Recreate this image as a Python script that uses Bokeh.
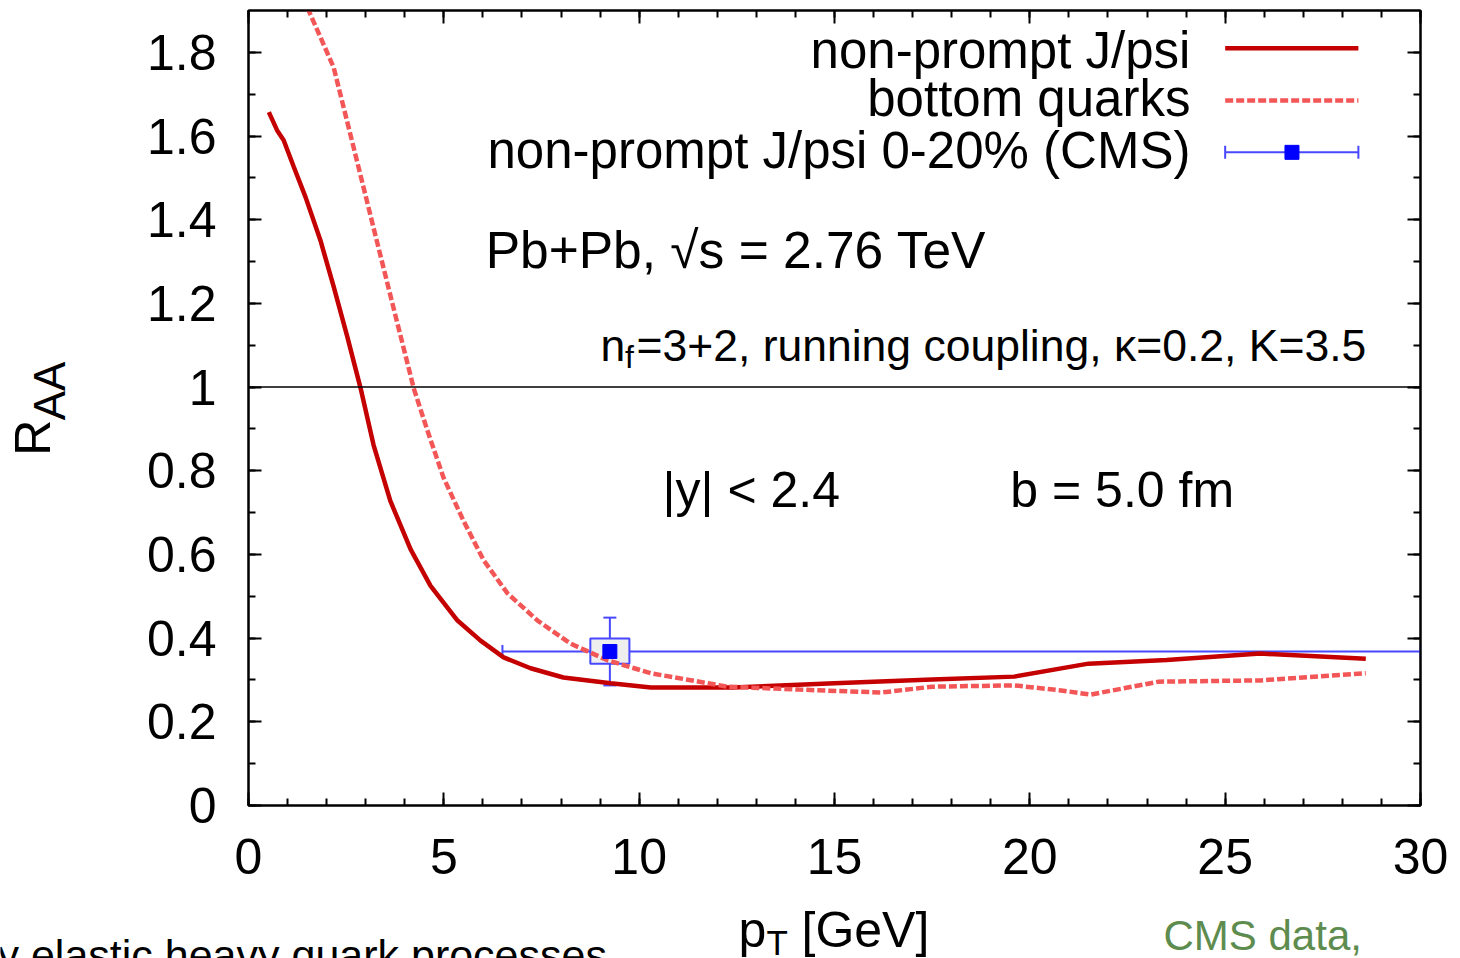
import math
from bokeh.plotting import figure
from bokeh.layouts import column, row
from bokeh.models import (SingleIntervalTicker, LinearAxis, Label, Span, Whisker,
                          ColumnDataSource, CustomJSTickFormatter, TeeHead, Range1d)
from bokeh.embed import file_html
from bokeh.resources import INLINE

# ---------------- data ----------------
# non-prompt J/psi (model), solid line
jpsi_pt = [0.52, 0.73, 0.9, 1.16, 1.46, 1.84, 2.18, 2.53, 2.87, 3.2, 3.63, 4.15, 4.66,
           5.35, 5.94, 6.53, 7.22, 8.06, 9.27, 10.3, 12.4, 15.0, 17.5, 19.6, 21.5,
           23.5, 25.9, 28.6]
jpsi_raa = [1.657, 1.614, 1.59, 1.526, 1.454, 1.351, 1.24, 1.12, 0.997, 0.862, 0.728,
            0.612, 0.525, 0.442, 0.394, 0.354, 0.328, 0.306, 0.292, 0.282, 0.282,
            0.292, 0.301, 0.308, 0.339, 0.348, 0.363, 0.351]

# bottom quarks (model), dashed line
bq_pt = [1.2, 1.54, 2.18, 2.69, 3.2, 3.71, 4.23, 4.58, 4.99, 5.5, 6.02, 6.63, 7.4,
         8.24, 9.19, 10.3, 12.26, 14.1, 16.2, 17.5, 19.6, 20.8, 21.55, 23.3, 25.9, 28.6]
bq_raa = [1.98, 1.90, 1.764, 1.573, 1.381, 1.19, 0.997, 0.896, 0.784, 0.681, 0.586,
          0.507, 0.442, 0.387, 0.347, 0.316, 0.284, 0.277, 0.27, 0.284, 0.287, 0.275,
          0.265, 0.296, 0.299, 0.316]

# CMS non-prompt J/psi 0-20%
cms_pt = [9.25]
cms_raa = [0.368]
cms_pt_lo = [6.5]
cms_pt_hi = [30.0]
cms_raa_lo = [0.287]
cms_raa_hi = [0.449]
cms_sys_lo = [0.339]
cms_sys_hi = [0.399]

x_ticks_major = 5
y_ticks_major = 0.2

legend_labels = ["non-prompt J/psi", "bottom quarks", "non-prompt J/psi 0-20% (CMS)"]

# ---------------- styling ----------------
FONT = "Liberation Sans"
RED = "#c40000"
LRED = "#f35656"
BLUE = "#0000ff"
BLUE_L = "#4848ff"

MAIN_W, MAIN_H = 1320, 900
LEFT_W = 140
BOTTOM_H = 58

p = figure(width=MAIN_W, height=MAIN_H, x_range=Range1d(0, 30), y_range=Range1d(0, 1.9),
           output_backend="svg", toolbar_location=None,
           min_border_left=108, min_border_right=40, min_border_top=10,
           min_border_bottom=95)
p.background_fill_color = "white"
p.border_fill_color = "white"
p.grid.visible = False
p.outline_line_color = "black"
p.outline_line_width = 2

xt = SingleIntervalTicker(interval=x_ticks_major, num_minor_ticks=5)
yt = SingleIntervalTicker(interval=y_ticks_major, num_minor_ticks=2)
yfmt = CustomJSTickFormatter(code="return Number(tick.toFixed(1)).toString();")
blank = CustomJSTickFormatter(code="return '';")


def style_axis(ax, show_labels, standoff):
    ax.axis_line_width = 2
    ax.axis_line_color = "black"
    ax.major_tick_in = 13
    ax.major_tick_out = 0
    ax.minor_tick_in = 7
    ax.minor_tick_out = 0
    ax.major_tick_line_width = 2
    ax.minor_tick_line_width = 2
    ax.major_tick_line_color = "black"
    ax.minor_tick_line_color = "black"
    ax.major_label_text_font = FONT
    ax.major_label_text_color = "black"
    ax.major_label_standoff = standoff
    if show_labels:
        ax.major_label_text_font_size = "50px"
    else:
        ax.major_label_text_font_size = "0px"
        ax.formatter = blank


p.xaxis.ticker = xt
p.yaxis.ticker = yt
p.yaxis.formatter = yfmt
style_axis(p.xaxis[0], True, 33)
style_axis(p.yaxis[0], True, 32)

top_ax = LinearAxis(ticker=SingleIntervalTicker(interval=x_ticks_major, num_minor_ticks=5))
right_ax = LinearAxis(ticker=SingleIntervalTicker(interval=y_ticks_major, num_minor_ticks=2))
style_axis(top_ax, False, 0)
style_axis(right_ax, False, 0)
p.add_layout(top_ax, "above")
p.add_layout(right_ax, "right")

# reference line at R_AA = 1
p.add_layout(Span(location=1.0, dimension="width", line_color="black", line_width=1.5))

# CMS systematic box
p.quad(left=[v - 0.5 for v in cms_pt], right=[v + 0.5 for v in cms_pt],
       bottom=cms_sys_lo, top=cms_sys_hi, fill_color="#eeeeee",
       line_color=BLUE_L, line_width=2)

# model curves
p.line(jpsi_pt, jpsi_raa, line_color=RED, line_width=4.5)
p.line(bq_pt, bq_raa, line_color=LRED, line_width=4.5, line_dash="8 3")

# CMS error bars
cms_src = ColumnDataSource(dict(x=cms_pt, y=cms_raa, xlo=cms_pt_lo, xhi=cms_pt_hi,
                                ylo=cms_raa_lo, yhi=cms_raa_hi))


def tee():
    return TeeHead(size=13, line_color=BLUE_L, line_width=2)


p.add_layout(Whisker(source=cms_src, base="y", lower="xlo", upper="xhi",
                     dimension="width", line_color=BLUE_L, line_width=2,
                     lower_head=tee(), upper_head=tee()))
p.add_layout(Whisker(source=cms_src, base="x", lower="ylo", upper="yhi",
                     dimension="height", line_color=BLUE_L, line_width=2,
                     lower_head=tee(), upper_head=tee()))
p.scatter("x", "y", source=cms_src, marker="square", size=14, fill_color=BLUE,
          line_color=BLUE)

# ---------------- legend (drawn manually: label left of key) ----------------
leg_y = [1.810, 1.685, 1.561]
leg_text_y = [1.805, 1.690, 1.566]
p.line([25.0, 28.41], [leg_y[0], leg_y[0]], line_color=RED, line_width=4.5)
p.line([25.0, 28.41], [leg_y[1], leg_y[1]], line_color=LRED, line_width=4.5,
       line_dash="8 3")
leg_src = ColumnDataSource(dict(x=[26.71], y=[leg_y[2]], lo=[25.0], hi=[28.41]))
p.add_layout(Whisker(source=leg_src, base="y", lower="lo", upper="hi",
                     dimension="width", line_color=BLUE_L, line_width=2,
                     lower_head=tee(), upper_head=tee()))
p.scatter("x", "y", source=leg_src, marker="square", size=14, fill_color=BLUE,
          line_color=BLUE)


def lab(fig, x, y, text, size, color="black", angle=0.0, align="left"):
    fig.add_layout(Label(x=x, y=y, text=text, text_font=FONT, text_font_size=size,
                         text_color=color, text_align=align,
                         text_baseline="middle", angle=angle))


for txt, ty in zip(legend_labels, leg_text_y):
    lab(p, 24.11, ty, txt, "51px", align="right")

# annotations inside the plot
lab(p, 6.07, 1.327, "Pb+Pb, \u221as = 2.76 TeV", "51.5px")
lab(p, 9.01, 1.099, "n", "44.5px")
lab(p, 9.64, 1.071, "f", "32px")
lab(p, 9.93, 1.099, "=3+2, running coupling, \u03ba=0.2, K=3.5", "44.5px")
lab(p, 10.6, 0.753, "|y| < 2.4", "50px")
lab(p, 19.5, 0.753, "b = 5.0 fm", "50px")


# ---------------- side strips holding the axis titles (pixel coordinates) ----------------
def strip(w, h):
    f = figure(width=w, height=h, x_range=Range1d(0, w), y_range=Range1d(h, 0),
               output_backend="svg", toolbar_location=None, min_border=0,
               x_axis_location=None, y_axis_location=None)
    f.outline_line_color = None
    f.grid.visible = False
    f.background_fill_color = "white"
    f.border_fill_color = "white"
    return f


left = strip(LEFT_W, MAIN_H)
lab(left, 32, 504, "R", "50px", angle=math.pi / 2)
lab(left, 49, 464, "AA", "44px", angle=math.pi / 2)

bottom = strip(LEFT_W + MAIN_W, BOTTOM_H)
lab(bottom, 738, 29, "p", "50px")
lab(bottom, 766, 42, "T", "35px")
lab(bottom, 801, 29, "[GeV]", "50px")
lab(bottom, -3, 54.5, "y elastic heavy quark processes", "43px")
lab(bottom, 1163, 35, "CMS data,", "42px", color="#5e8c4f")

layout = column(row(left, p, spacing=0), bottom, spacing=0)
open("out.html", "w").write(file_html(layout, INLINE))
